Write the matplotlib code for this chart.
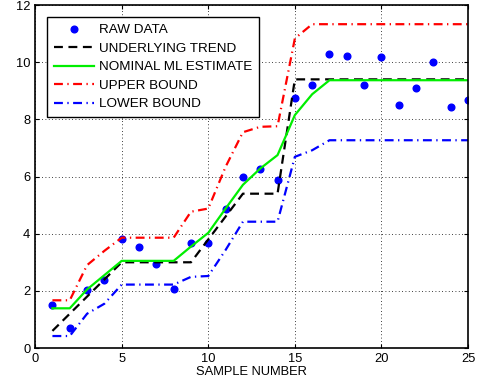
import numpy as np
import matplotlib
matplotlib.use("Agg")
import matplotlib.pyplot as plt

plt.rcParams['font.family'] = ['Liberation Sans', 'DejaVu Sans']

# ------------------------
# Dane
# ------------------------
sample = np.arange(1, 26)

raw_data = [1.52, 0.70, 2.03, 2.38, 3.80, 3.54, 2.93, 2.05, 3.66, 3.68,
            4.85, 5.99, 6.26, 5.87, 8.75, 9.20, 10.27, 10.22, 9.22, 10.17,
            8.52, 9.10, 10.02, 8.42, 8.68]

trend = [0.6, 1.2, 1.8, 2.4, 3.0, 3.0, 3.0, 3.0, 3.0, 3.8,
         4.6, 5.4, 5.4, 5.4, 9.4, 9.4, 9.4, 9.4, 9.4, 9.4,
         9.4, 9.4, 9.4, 9.4, 9.4]

ml_est = [1.39, 1.39, 2.05, 2.55, 3.05, 3.05, 3.05, 3.05, 3.55, 4.03,
          4.88, 5.71, 6.28, 6.75, 8.15, 8.88, 9.37, 9.37, 9.37, 9.37,
          9.37, 9.37, 9.37, 9.37, 9.37]

upper = [1.67, 1.67, 2.90, 3.40, 3.86, 3.86, 3.86, 3.86, 4.77, 4.88,
         6.34, 7.55, 7.74, 7.76, 10.83, 11.33, 11.33, 11.33, 11.33, 11.33,
         11.33, 11.33, 11.33, 11.33, 11.33]

lower = [0.42, 0.42, 1.20, 1.55, 2.22, 2.22, 2.22, 2.22, 2.49, 2.52,
         3.43, 4.42, 4.42, 4.42, 6.69, 6.92, 7.27, 7.27, 7.27, 7.27,
         7.27, 7.27, 7.27, 7.27, 7.27]

# ------------------------
# Rysowanie
# ------------------------
fig = plt.figure(figsize=(4.81, 3.88), dpi=100)
ax = fig.add_axes([0.073, 0.103, 0.900, 0.884])

ax.plot(sample, raw_data, 'o', color='blue', markersize=4.8, label='RAW DATA')
ax.plot(sample, trend, color='black', lw=1.6, dashes=(4, 2.5), label='UNDERLYING TREND')
ax.plot(sample, ml_est, color='#00ee00', lw=1.6, label='NOMINAL ML ESTIMATE')
ax.plot(sample, upper, color='red', lw=1.6, dashes=(4, 2, 0.6, 2), label='UPPER BOUND')
ax.plot(sample, lower, color='blue', lw=1.6, dashes=(4, 2, 0.6, 2), label='LOWER BOUND')

ax.set_xlim(0, 25)
ax.set_ylim(0, 12)
ax.set_xticks(np.arange(0, 26, 5))
ax.set_yticks(np.arange(0, 13, 2))
ax.set_xlabel("SAMPLE NUMBER", fontsize=9.3, labelpad=1)
ax.tick_params(direction='in', labelsize=9.3, length=3, top=True, right=True)
ax.grid(True, color='black', linestyle=(0, (1, 3)), linewidth=0.6)
for s in ax.spines.values():
    s.set_linewidth(1.2)

leg = ax.legend(loc='upper left', fontsize=9.7, fancybox=False, framealpha=1,
                edgecolor='black', handlelength=3.0, borderaxespad=0.9,
                labelspacing=0.45, handletextpad=0.35, borderpad=0.5)
leg.get_frame().set_linewidth(1.0)

plt.savefig("out.png", dpi=100)
